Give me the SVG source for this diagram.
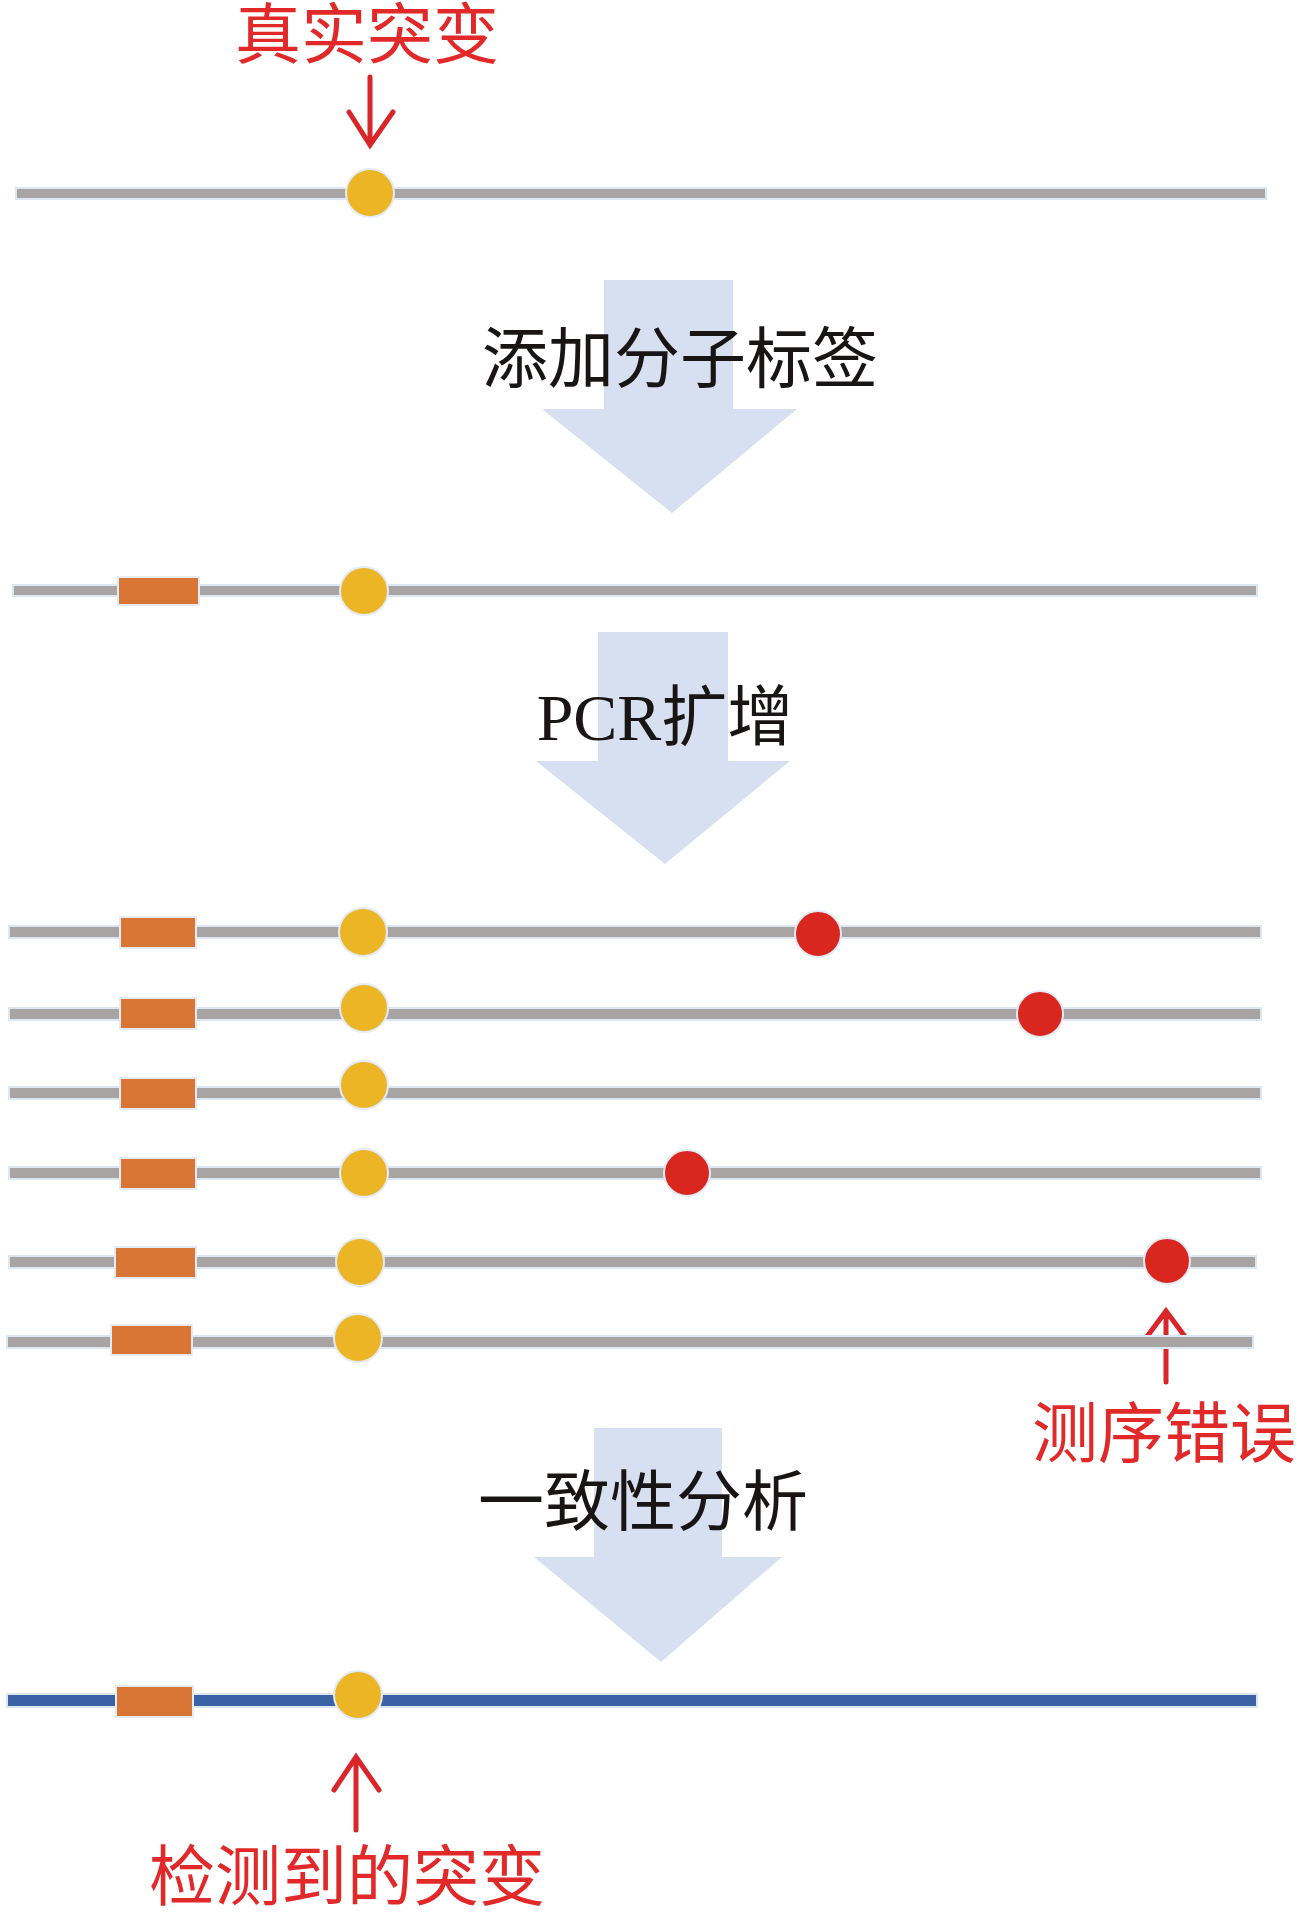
<svg xmlns="http://www.w3.org/2000/svg" width="1298" height="1915" viewBox="0 0 1298 1915">
<style>
.bg{fill:#ffffff}
.strand{fill:#a9a4a4;stroke:#dde6f3;stroke-width:2}
.cons{fill:#3c62a6;stroke:#dde6f3;stroke-width:2}
.tag{fill:#d97636;stroke:#e4ebf5;stroke-width:2}
.mut{fill:#ebb526;stroke:#e4ebf5;stroke-width:2}
.err{fill:#d9271f;stroke:#e4ebf5;stroke-width:2}
.step{fill:#d6e0f0}
.ptr{fill:none;stroke:#d9262a;stroke-width:5;stroke-linecap:round;stroke-linejoin:miter}
.lbl{font-family:"Liberation Serif","Noto Sans CJK SC",serif;font-size:66px;fill:#1a1515;text-anchor:middle}
.red{font-family:"Liberation Serif","Noto Sans CJK SC",serif;font-size:66px;fill:#e2292a;text-anchor:middle}
</style>
<rect class="bg" x="0" y="0" width="1298" height="1915"/>

<g id="connectors">
  <polygon id="step1" class="step" points="604,280 733,280 733,409 797,409 672,513 542,409 604,409"/>
  <polygon id="step2" class="step" points="598,632 728,632 728,761 790,761 665,864 536,761 598,761"/>
  <polygon id="step3" class="step" points="594,1428 722,1428 722,1557 782,1557 661,1662 534,1557 594,1557"/>
  <path id="ptr-true" class="ptr" d="M370,77 V145 M349,112 L370,145 L393,112"/>
  <path id="ptr-err" class="ptr" d="M1166,1382 V1311 M1143,1342 L1166,1311 L1189,1342"/>
  <path id="ptr-det" class="ptr" d="M356,1830 V1757 M334,1790 L356,1757 L379,1790"/>
</g>

<g id="label-true"><text class="red" x="367" y="58">真实突变</text></g>

<g id="original">
  <rect class="strand" x="16" y="188" width="1250" height="11"/>
  <circle class="mut" cx="370" cy="193" r="24"/>
</g>

<g id="label-step1"><text class="lbl" x="680" y="382">添加分子标签</text></g>

<g id="tagged">
  <rect class="strand" x="13" y="585" width="1244" height="11"/>
  <rect class="tag" x="118" y="577" width="81" height="28"/>
  <circle class="mut" cx="364" cy="591" r="24"/>
</g>

<g id="label-step2"><text class="lbl" x="665" y="740">PCR扩增</text></g>

<g id="read1">
  <rect class="strand" x="9" y="926" width="1252" height="12"/>
  <rect class="tag" x="120" y="917" width="76" height="31"/>
  <circle class="mut" cx="363" cy="932" r="24"/>
  <circle class="err" cx="818" cy="934" r="23"/>
</g>
<g id="read2">
  <rect class="strand" x="9" y="1008" width="1252" height="12"/>
  <rect class="tag" x="120" y="998" width="76" height="31"/>
  <circle class="mut" cx="364" cy="1008" r="24"/>
  <circle class="err" cx="1040" cy="1014" r="23"/>
</g>
<g id="read3">
  <rect class="strand" x="9" y="1087" width="1252" height="12"/>
  <rect class="tag" x="120" y="1078" width="76" height="31"/>
  <circle class="mut" cx="364" cy="1085" r="24"/>
</g>
<g id="read4">
  <rect class="strand" x="9" y="1167" width="1252" height="12"/>
  <rect class="tag" x="120" y="1158" width="76" height="31"/>
  <circle class="mut" cx="364" cy="1173" r="24"/>
  <circle class="err" cx="687" cy="1173" r="23"/>
</g>
<g id="read5">
  <rect class="strand" x="9" y="1256" width="1247" height="12"/>
  <rect class="tag" x="115" y="1247" width="81" height="31"/>
  <circle class="mut" cx="360" cy="1262" r="24"/>
  <circle class="err" cx="1167" cy="1261" r="23"/>
</g>
<g id="read6">
  <rect class="strand" x="7" y="1336" width="1246" height="12"/>
  <rect class="tag" x="111" y="1325" width="81" height="30"/>
  <circle class="mut" cx="358" cy="1338" r="24"/>
</g>

<g id="label-err"><text class="red" x="1164" y="1457">测序错误</text></g>

<g id="label-step3"><text class="lbl" x="643" y="1525">一致性分析</text></g>

<g id="consensus">
  <rect class="cons" x="7" y="1694" width="1250" height="13"/>
  <rect class="tag" x="116" y="1686" width="77" height="31"/>
  <circle class="mut" cx="358" cy="1695" r="24"/>
</g>

<g id="label-det"><text class="red" x="347" y="1900">检测到的突变</text></g>
</svg>
